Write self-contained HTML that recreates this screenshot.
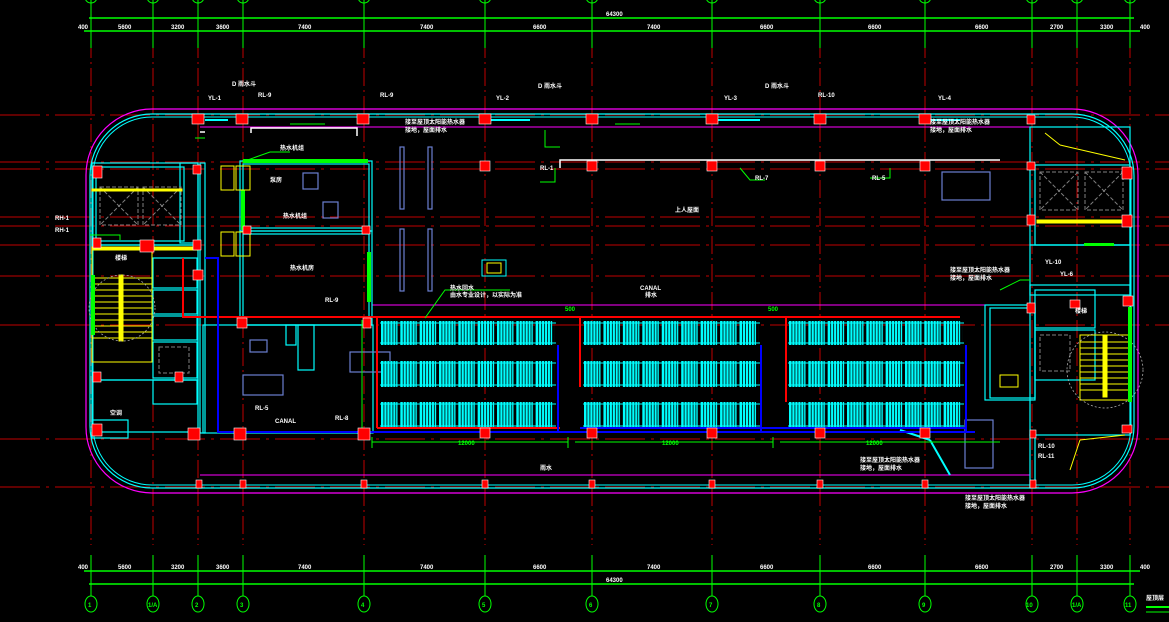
<!DOCTYPE html>
<html><head><meta charset="utf-8"><style>
html,body{margin:0;padding:0;background:#000;width:1169px;height:622px;overflow:hidden}
svg{display:block}
text{font-family:"Liberation Sans","Noto Sans CJK SC",sans-serif;fill:#fff;font-size:6px;font-weight:bold}
</style></head><body>
<svg width="1169" height="622" viewBox="0 0 1169 622" xmlns="http://www.w3.org/2000/svg">
<defs>
<pattern id="rad1" x="381" y="0" width="19.33" height="10" patternUnits="userSpaceOnUse">
<rect x="0" y="0" width="16.5" height="10" fill="#00ffff"/>
<rect x="2.5" y="0" width="0.8" height="10" fill="#000"/><rect x="5.5" y="0" width="0.8" height="10" fill="#000"/>
<rect x="8.5" y="0" width="0.8" height="10" fill="#000"/><rect x="11.5" y="0" width="0.8" height="10" fill="#000"/><rect x="14.3" y="0" width="0.8" height="10" fill="#000"/>
</pattern>
<pattern id="rad2" x="584" y="0" width="19.44" height="10" patternUnits="userSpaceOnUse">
<rect x="0" y="0" width="16.5" height="10" fill="#00ffff"/>
<rect x="2.5" y="0" width="0.8" height="10" fill="#000"/><rect x="5.5" y="0" width="0.8" height="10" fill="#000"/>
<rect x="8.5" y="0" width="0.8" height="10" fill="#000"/><rect x="11.5" y="0" width="0.8" height="10" fill="#000"/><rect x="14.3" y="0" width="0.8" height="10" fill="#000"/>
</pattern>
<pattern id="rad3" x="789" y="0" width="19.33" height="10" patternUnits="userSpaceOnUse">
<rect x="0" y="0" width="16.5" height="10" fill="#00ffff"/>
<rect x="2.5" y="0" width="0.8" height="10" fill="#000"/><rect x="5.5" y="0" width="0.8" height="10" fill="#000"/>
<rect x="8.5" y="0" width="0.8" height="10" fill="#000"/><rect x="11.5" y="0" width="0.8" height="10" fill="#000"/><rect x="14.3" y="0" width="0.8" height="10" fill="#000"/>
</pattern>
</defs>

<g stroke="#c00000" stroke-width="1" stroke-dasharray="18,4,2,4">
<line x1="91" y1="40" x2="91" y2="545"/><line x1="153" y1="40" x2="153" y2="545"/>
<line x1="198" y1="40" x2="198" y2="545"/><line x1="243" y1="40" x2="243" y2="545"/>
<line x1="364" y1="40" x2="364" y2="545"/><line x1="485" y1="40" x2="485" y2="545"/>
<line x1="592" y1="40" x2="592" y2="545"/><line x1="712" y1="40" x2="712" y2="545"/>
<line x1="820" y1="40" x2="820" y2="545"/><line x1="925" y1="40" x2="925" y2="545"/>
<line x1="1032" y1="40" x2="1032" y2="545"/><line x1="1077" y1="40" x2="1077" y2="545"/>
<line x1="1130" y1="40" x2="1130" y2="545"/>
</g>
<g stroke="#c00000" stroke-width="1" stroke-dasharray="40,6,3,6">
<line x1="0" y1="115" x2="1169" y2="115"/><line x1="0" y1="162" x2="1169" y2="162"/>
<line x1="0" y1="169" x2="1169" y2="169"/><line x1="0" y1="217" x2="1169" y2="217"/>
<line x1="0" y1="226" x2="1169" y2="226"/><line x1="0" y1="245" x2="1169" y2="245"/>
<line x1="0" y1="276" x2="1169" y2="276"/><line x1="0" y1="325" x2="1169" y2="325"/>
<line x1="0" y1="439" x2="1169" y2="439"/><line x1="0" y1="487" x2="1169" y2="487"/>
</g>

<g stroke="#00ff00" stroke-width="1.5">
<line x1="89" y1="18" x2="1134" y2="18"/><line x1="84" y1="31" x2="1140" y2="31"/>
</g>
<g stroke="#00ff00" stroke-width="1">
<line x1="91" y1="0" x2="91" y2="48"/><line x1="153" y1="0" x2="153" y2="48"/><line x1="198" y1="0" x2="198" y2="48"/>
<line x1="243" y1="0" x2="243" y2="48"/><line x1="364" y1="0" x2="364" y2="48"/><line x1="485" y1="0" x2="485" y2="48"/>
<line x1="592" y1="0" x2="592" y2="48"/><line x1="712" y1="0" x2="712" y2="48"/><line x1="820" y1="0" x2="820" y2="48"/>
<line x1="925" y1="0" x2="925" y2="48"/><line x1="1032" y1="0" x2="1032" y2="48"/><line x1="1077" y1="0" x2="1077" y2="48"/>
<line x1="1130" y1="0" x2="1130" y2="48"/>
</g>
<g fill="none" stroke="#00ff00" stroke-width="1">
<ellipse cx="91" cy="-3" rx="6" ry="6"/><ellipse cx="153" cy="-3" rx="6" ry="6"/><ellipse cx="198" cy="-3" rx="6" ry="6"/>
<ellipse cx="243" cy="-3" rx="6" ry="6"/><ellipse cx="364" cy="-3" rx="6" ry="6"/><ellipse cx="485" cy="-3" rx="6" ry="6"/>
<ellipse cx="592" cy="-3" rx="6" ry="6"/><ellipse cx="712" cy="-3" rx="6" ry="6"/><ellipse cx="820" cy="-3" rx="6" ry="6"/>
<ellipse cx="925" cy="-3" rx="6" ry="6"/><ellipse cx="1032" cy="-3" rx="6" ry="6"/><ellipse cx="1077" cy="-3" rx="6" ry="6"/>
<ellipse cx="1130" cy="-3" rx="6" ry="6"/>
</g>
<g font-size="5">
<text x="78" y="29">400</text><text x="118" y="29">5600</text><text x="171" y="29">3200</text><text x="216" y="29">3600</text>
<text x="298" y="29">7400</text><text x="420" y="29">7400</text><text x="533" y="29">6600</text><text x="647" y="29">7400</text>
<text x="760" y="29">6600</text><text x="868" y="29">6600</text><text x="975" y="29">6600</text><text x="1050" y="29">2700</text>
<text x="1100" y="29">3300</text><text x="1140" y="29">400</text><text x="606" y="16">64300</text>
</g>

<g stroke="#00ff00" stroke-width="1.5">
<line x1="84" y1="571" x2="1140" y2="571"/><line x1="89" y1="584" x2="1134" y2="584"/>
</g>
<g stroke="#00ff00" stroke-width="1">
<line x1="91" y1="555" x2="91" y2="596"/><line x1="153" y1="555" x2="153" y2="596"/><line x1="198" y1="555" x2="198" y2="596"/>
<line x1="243" y1="555" x2="243" y2="596"/><line x1="364" y1="555" x2="364" y2="596"/><line x1="485" y1="555" x2="485" y2="596"/>
<line x1="592" y1="555" x2="592" y2="596"/><line x1="712" y1="555" x2="712" y2="596"/><line x1="820" y1="555" x2="820" y2="596"/>
<line x1="925" y1="555" x2="925" y2="596"/><line x1="1032" y1="555" x2="1032" y2="596"/><line x1="1077" y1="555" x2="1077" y2="596"/>
<line x1="1130" y1="555" x2="1130" y2="596"/>
</g>
<g fill="none" stroke="#00ff00" stroke-width="1">
<ellipse cx="91" cy="604" rx="6" ry="8"/><ellipse cx="153" cy="604" rx="6" ry="8"/><ellipse cx="198" cy="604" rx="6" ry="8"/>
<ellipse cx="243" cy="604" rx="6" ry="8"/><ellipse cx="364" cy="604" rx="6" ry="8"/><ellipse cx="485" cy="604" rx="6" ry="8"/>
<ellipse cx="592" cy="604" rx="6" ry="8"/><ellipse cx="712" cy="604" rx="6" ry="8"/><ellipse cx="820" cy="604" rx="6" ry="8"/>
<ellipse cx="925" cy="604" rx="6" ry="8"/><ellipse cx="1032" cy="604" rx="6" ry="8"/><ellipse cx="1077" cy="604" rx="6" ry="8"/>
<ellipse cx="1130" cy="604" rx="6" ry="8"/>
</g>
<g font-size="8">
<text x="88" y="607" style="fill:#00ff00">1</text><text x="148" y="607" style="fill:#00ff00">1/A</text><text x="195" y="607" style="fill:#00ff00">2</text>
<text x="240" y="607" style="fill:#00ff00">3</text><text x="361" y="607" style="fill:#00ff00">4</text><text x="482" y="607" style="fill:#00ff00">5</text>
<text x="589" y="607" style="fill:#00ff00">6</text><text x="709" y="607" style="fill:#00ff00">7</text><text x="817" y="607" style="fill:#00ff00">8</text>
<text x="922" y="607" style="fill:#00ff00">9</text><text x="1026" y="607" style="fill:#00ff00">10</text><text x="1072" y="607" style="fill:#00ff00">1/A</text>
<text x="1125" y="607" style="fill:#00ff00">11</text>
</g>
<g font-size="5">
<text x="78" y="569">400</text><text x="118" y="569">5600</text><text x="171" y="569">3200</text><text x="216" y="569">3600</text>
<text x="298" y="569">7400</text><text x="420" y="569">7400</text><text x="533" y="569">6600</text><text x="647" y="569">7400</text>
<text x="760" y="569">6600</text><text x="868" y="569">6600</text><text x="975" y="569">6600</text><text x="1050" y="569">2700</text>
<text x="1100" y="569">3300</text><text x="1140" y="569">400</text><text x="606" y="582">64300</text>
</g>
<text x="1146" y="600" font-size="13">屋顶层</text>
<line x1="1146" y1="607" x2="1169" y2="607" stroke="#00ff00" stroke-width="2"/>
<line x1="1146" y1="612" x2="1169" y2="612" stroke="#00ff00" stroke-width="1"/>

<rect x="86" y="109" width="1052" height="384" rx="66" ry="66" fill="none" stroke="#ff00ff" stroke-width="1.2"/>
<rect x="90" y="114" width="1044" height="374" rx="62" ry="62" fill="none" stroke="#00ffff" stroke-width="1.2"/>
<rect x="93" y="117" width="1038" height="368" rx="59" ry="59" fill="none" stroke="#00ffff" stroke-width="1"/>
<line x1="200" y1="127" x2="1030" y2="127" stroke="#ff00ff" stroke-width="1"/>
<line x1="200" y1="475" x2="1030" y2="475" stroke="#ff00ff" stroke-width="1"/>
<line x1="372" y1="305" x2="1000" y2="305" stroke="#ff00ff" stroke-width="1"/>
<line x1="372" y1="305" x2="372" y2="325" stroke="#ff00ff" stroke-width="1"/>

<g fill="none" stroke="#00ffff" stroke-width="1.2">
<rect x="92" y="163" width="106" height="82"/>
<rect x="96" y="167" width="88" height="74"/>
<rect x="92" y="245" width="106" height="135"/>
<rect x="153" y="258" width="44" height="30"/>
<rect x="153" y="290" width="44" height="24"/>
<rect x="153" y="316" width="44" height="24"/>
<rect x="153" y="342" width="44" height="36"/>
<rect x="92" y="380" width="106" height="52"/>
<rect x="153" y="380" width="44" height="24"/>
<rect x="92" y="420" width="36" height="18"/>
<rect x="180" y="163" width="18" height="80"/>
<rect x="200" y="163" width="5" height="270"/>
</g>
<g fill="none" stroke="#808080" stroke-width="1" stroke-dasharray="4,2">
<rect x="100" y="187" width="38" height="38"/><rect x="143" y="187" width="38" height="38"/>
<rect x="159" y="347" width="30" height="26"/>
<line x1="100" y1="187" x2="138" y2="225"/><line x1="138" y1="187" x2="100" y2="225"/>
<line x1="143" y1="187" x2="181" y2="225"/><line x1="181" y1="187" x2="143" y2="225"/>
</g>
<g stroke="#ffff00" stroke-width="1">
<rect x="92" y="250" width="60" height="112" fill="none"/>
<line x1="92" y1="278" x2="152" y2="278"/><line x1="92" y1="284" x2="152" y2="284"/><line x1="92" y1="290" x2="152" y2="290"/>
<line x1="92" y1="296" x2="152" y2="296"/><line x1="92" y1="302" x2="152" y2="302"/><line x1="92" y1="308" x2="152" y2="308"/>
<line x1="92" y1="314" x2="152" y2="314"/><line x1="92" y1="320" x2="152" y2="320"/><line x1="92" y1="326" x2="152" y2="326"/>
<line x1="92" y1="332" x2="152" y2="332"/><line x1="92" y1="338" x2="152" y2="338"/>
<rect x="119" y="275" width="4" height="66" fill="#ffff00"/>
<rect x="92" y="247" width="106" height="3" fill="#ffff00"/>
<rect x="92" y="189" width="90" height="2" fill="#ffff00"/>
</g>
<circle cx="122" cy="308" r="33" fill="none" stroke="#aaa" stroke-width="0.8" stroke-dasharray="2,2"/>
<rect x="91" y="275" width="4" height="60" fill="#00ff00"/>

<g fill="none" stroke="#00ffff" stroke-width="1.2">
<rect x="1030" y="127" width="100" height="118"/>
<rect x="1035" y="165" width="95" height="80"/>
<rect x="1030" y="245" width="100" height="50"/>
<rect x="1030" y="285" width="100" height="150"/>
<rect x="1035" y="290" width="60" height="38"/>
<rect x="1035" y="330" width="60" height="50"/>
<rect x="985" y="305" width="50" height="95"/>
<rect x="990" y="308" width="45" height="90"/>
<rect x="1030" y="435" width="5" height="52"/>
</g>
<g fill="none" stroke="#808080" stroke-width="1" stroke-dasharray="4,2">
<rect x="1040" y="172" width="38" height="38"/><rect x="1085" y="172" width="38" height="38"/>
<rect x="1040" y="335" width="30" height="36"/>
<line x1="1040" y1="172" x2="1078" y2="210"/><line x1="1078" y1="172" x2="1040" y2="210"/>
<line x1="1085" y1="172" x2="1123" y2="210"/><line x1="1123" y1="172" x2="1085" y2="210"/>
</g>
<g stroke="#ffff00" stroke-width="1">
<rect x="1080" y="335" width="50" height="65" fill="none"/>
<line x1="1080" y1="342" x2="1130" y2="342"/><line x1="1080" y1="348" x2="1130" y2="348"/><line x1="1080" y1="354" x2="1130" y2="354"/>
<line x1="1080" y1="360" x2="1130" y2="360"/><line x1="1080" y1="366" x2="1130" y2="366"/><line x1="1080" y1="372" x2="1130" y2="372"/>
<line x1="1080" y1="378" x2="1130" y2="378"/><line x1="1080" y1="384" x2="1130" y2="384"/><line x1="1080" y1="390" x2="1130" y2="390"/>
<rect x="1103" y="335" width="4" height="62" fill="#ffff00"/>
<rect x="1037" y="220" width="93" height="3" fill="#ffff00"/>
<line x1="1045" y1="133" x2="1060" y2="145"/><line x1="1060" y1="145" x2="1125" y2="160"/>
<line x1="1070" y1="470" x2="1080" y2="440"/><line x1="1080" y1="440" x2="1125" y2="435"/>
</g>
<circle cx="1105" cy="370" r="38" fill="none" stroke="#aaa" stroke-width="0.8" stroke-dasharray="2,2"/>
<rect x="1128" y="307" width="4" height="95" fill="#00ff00"/>
<rect x="1084" y="243" width="30" height="3" fill="#00ff00"/>

<g fill="none" stroke="#00ffff" stroke-width="1.2">
<rect x="240" y="161" width="132" height="70"/>
<rect x="243" y="164" width="126" height="64"/>
<rect x="240" y="231" width="132" height="94"/>
<rect x="243" y="234" width="126" height="91"/>
<rect x="203" y="325" width="170" height="108"/>
<rect x="286" y="325" width="10" height="20"/>
<rect x="298" y="325" width="16" height="45"/>
</g>
<rect x="243" y="159" width="125" height="4" fill="#00ff00"/>
<rect x="367" y="252" width="4" height="50" fill="#00ff00"/>
<rect x="241" y="190" width="4" height="40" fill="#00ff00"/>
<g fill="none" stroke="#ffff00" stroke-width="1">
<rect x="221" y="166" width="13" height="24"/><rect x="236" y="166" width="14" height="24"/>
<rect x="221" y="232" width="13" height="24"/><rect x="236" y="232" width="14" height="24"/>
<rect x="1000" y="375" width="18" height="12"/>
</g>
<g fill="none" stroke="#6a7fd0" stroke-width="1.2">
<rect x="303" y="173" width="15" height="16"/><rect x="323" y="202" width="15" height="16"/>
<rect x="400" y="147" width="4" height="62"/><rect x="428" y="147" width="4" height="62"/>
<rect x="400" y="229" width="4" height="62"/><rect x="428" y="229" width="4" height="62"/>
<rect x="942" y="172" width="48" height="28"/>
<rect x="250" y="340" width="17" height="12"/><rect x="243" y="375" width="40" height="20"/>
<rect x="350" y="352" width="40" height="20"/>
<rect x="965" y="420" width="28" height="48"/>
</g>
<rect x="482" y="260" width="24" height="16" fill="none" stroke="#00ffff" stroke-width="1"/>
<rect x="487" y="263" width="14" height="10" fill="none" stroke="#ffff00" stroke-width="1"/>

<g stroke="#fff" stroke-width="1.5" fill="none">
<polyline points="251,133 251,128 357,128 357,136"/>
<polyline points="560,168 560,160 1000,160"/>
<polyline points="200,132 205,132"/>
</g>
<g stroke="#00ffff" stroke-width="2">
<line x1="205" y1="120" x2="228" y2="120"/><line x1="487" y1="120" x2="530" y2="120"/>
<line x1="718" y1="120" x2="760" y2="120"/><line x1="920" y1="120" x2="960" y2="120"/>
<line x1="930" y1="440" x2="950" y2="475"/><line x1="900" y1="430" x2="930" y2="440"/>
</g>

<rect x="381" y="321" width="174" height="24" fill="url(#rad1)"/>
<rect x="381" y="361" width="174" height="26" fill="url(#rad1)"/>
<rect x="381" y="402" width="174" height="26" fill="url(#rad1)"/>
<rect x="584" y="321" width="175" height="24" fill="url(#rad2)"/>
<rect x="584" y="361" width="175" height="26" fill="url(#rad2)"/>
<rect x="584" y="402" width="175" height="26" fill="url(#rad2)"/>
<rect x="789" y="321" width="174" height="24" fill="url(#rad3)"/>
<rect x="789" y="361" width="174" height="26" fill="url(#rad3)"/>
<rect x="789" y="402" width="174" height="26" fill="url(#rad3)"/>
<g stroke="#00ffff" stroke-width="1">
<line x1="380" y1="323" x2="556" y2="323"/><line x1="380" y1="343" x2="556" y2="343"/>
<line x1="380" y1="363" x2="556" y2="363"/><line x1="380" y1="385" x2="556" y2="385"/>
<line x1="380" y1="404" x2="556" y2="404"/><line x1="380" y1="426" x2="556" y2="426"/>
<line x1="583" y1="323" x2="760" y2="323"/><line x1="583" y1="343" x2="760" y2="343"/>
<line x1="583" y1="363" x2="760" y2="363"/><line x1="583" y1="385" x2="760" y2="385"/>
<line x1="583" y1="404" x2="760" y2="404"/><line x1="583" y1="426" x2="760" y2="426"/>
<line x1="788" y1="323" x2="964" y2="323"/><line x1="788" y1="343" x2="964" y2="343"/>
<line x1="788" y1="363" x2="964" y2="363"/><line x1="788" y1="385" x2="964" y2="385"/>
<line x1="788" y1="404" x2="964" y2="404"/><line x1="788" y1="426" x2="964" y2="426"/>
</g>

<g stroke="#ff0000" stroke-width="2" fill="none">
<polyline points="183,258 183,317 960,317"/>
<polyline points="377,317 377,428"/>
<polyline points="580,317 580,387"/>
<polyline points="786,317 786,402"/>
<line x1="377" y1="428" x2="560" y2="428"/>
</g>
<g stroke="#0000ff" stroke-width="2" fill="none">
<polyline points="205,258 218,258 218,432 975,432"/>
<polyline points="558,345 558,432"/><polyline points="761,345 761,432"/><polyline points="966,345 966,432"/>
<line x1="580" y1="428" x2="966" y2="428"/>
</g>
<g stroke="#00ff00" stroke-width="1">
<line x1="372" y1="442" x2="568" y2="442"/><line x1="575" y1="442" x2="773" y2="442"/><line x1="780" y1="442" x2="1000" y2="442"/>
<line x1="372" y1="437" x2="372" y2="448"/><line x1="568" y1="437" x2="568" y2="448"/><line x1="773" y1="437" x2="773" y2="448"/>
<line x1="362" y1="320" x2="362" y2="430"/>
</g>
<g font-size="7">
<text x="458" y="445" style="fill:#00ff00">12000</text><text x="662" y="445" style="fill:#00ff00">12000</text><text x="866" y="445" style="fill:#00ff00">12000</text>
<text x="565" y="311" style="fill:#00ff00">500</text><text x="768" y="311" style="fill:#00ff00">500</text>
</g>

<g stroke="#00ff00" stroke-width="1" fill="none">
<polyline points="195,138 205,138"/><polyline points="290,124 325,124"/><polyline points="615,124 640,124"/>
<polyline points="425,318 445,290 510,290"/><polyline points="242,162 270,152 290,152"/>
<polyline points="90,235 120,235 120,240"/><polyline points="545,130 545,147 560,147"/>
<polyline points="555,168 555,182 540,182"/><polyline points="740,168 750,180 765,180"/>
<polyline points="890,168 890,178 870,178"/><polyline points="1000,290 1020,280 1030,280"/>
</g>

<g fill="#ff0000" stroke="#fff" stroke-width="0.6">
<rect x="192" y="114" width="12" height="10"/><rect x="236" y="114" width="12" height="10"/><rect x="357" y="114" width="12" height="10"/>
<rect x="479" y="114" width="12" height="10"/><rect x="586" y="114" width="12" height="10"/><rect x="706" y="114" width="12" height="10"/>
<rect x="814" y="114" width="12" height="10"/><rect x="919" y="114" width="12" height="10"/><rect x="1027" y="115" width="8" height="9"/>
<rect x="480" y="161" width="10" height="10"/><rect x="587" y="161" width="10" height="10"/><rect x="707" y="161" width="10" height="10"/>
<rect x="815" y="161" width="10" height="10"/><rect x="920" y="161" width="10" height="10"/><rect x="1122" y="167" width="10" height="12"/>
<rect x="93" y="166" width="9" height="12"/><rect x="193" y="165" width="8" height="9"/><rect x="1027" y="162" width="8" height="8"/>
<rect x="93" y="238" width="8" height="10"/><rect x="140" y="240" width="14" height="12"/><rect x="193" y="240" width="8" height="10"/>
<rect x="1122" y="215" width="10" height="12"/><rect x="1027" y="215" width="8" height="10"/><rect x="1123" y="296" width="10" height="10"/>
<rect x="1070" y="300" width="10" height="8"/><rect x="1027" y="303" width="8" height="10"/>
<rect x="243" y="226" width="8" height="8"/><rect x="362" y="226" width="8" height="8"/>
<rect x="193" y="270" width="10" height="10"/><rect x="237" y="318" width="10" height="10"/><rect x="363" y="318" width="8" height="10"/>
<rect x="93" y="372" width="8" height="10"/><rect x="175" y="372" width="8" height="10"/>
<rect x="92" y="424" width="10" height="12"/><rect x="188" y="428" width="12" height="12"/><rect x="234" y="428" width="12" height="12"/>
<rect x="358" y="428" width="12" height="12"/><rect x="480" y="428" width="10" height="10"/><rect x="587" y="428" width="10" height="10"/>
<rect x="707" y="428" width="10" height="10"/><rect x="815" y="428" width="10" height="10"/><rect x="920" y="428" width="10" height="10"/>
<rect x="1122" y="425" width="10" height="8"/><rect x="1030" y="430" width="6" height="8"/>
<rect x="196" y="480" width="6" height="8"/><rect x="240" y="480" width="6" height="8"/><rect x="361" y="480" width="6" height="8"/>
<rect x="482" y="480" width="6" height="8"/><rect x="589" y="480" width="6" height="8"/><rect x="709" y="480" width="6" height="8"/>
<rect x="817" y="480" width="6" height="8"/><rect x="922" y="480" width="6" height="8"/><rect x="1030" y="480" width="6" height="8"/>
</g>

<g font-size="5">
<text x="208" y="100">YL-1</text><text x="258" y="97">RL-9</text><text x="232" y="86">D 雨水斗</text>
<text x="380" y="97">RL-9</text><text x="496" y="100">YL-2</text><text x="538" y="88">D 雨水斗</text>
<text x="724" y="100">YL-3</text><text x="765" y="88">D 雨水斗</text><text x="818" y="97">RL-10</text><text x="938" y="100">YL-4</text>
<text x="405" y="124">接至屋顶太阳能热水器</text><text x="405" y="132">接地，屋面排水</text>
<text x="930" y="124">接至屋顶太阳能热水器</text><text x="930" y="132">接地，屋面排水</text>
<text x="280" y="150">热水机组</text><text x="283" y="218">热水机组</text><text x="270" y="182">泵房</text>
<text x="290" y="270">热水机房</text><text x="675" y="212">上人屋面</text>
<text x="540" y="170">RL-1</text><text x="755" y="180">RL-7</text><text x="872" y="180">RL-5</text>
<text x="450" y="290">热水回水</text><text x="450" y="297">由水专业设计，以实际为准</text>
<text x="640" y="290">CANAL</text><text x="645" y="297">排水</text>
<text x="275" y="423">CANAL</text><text x="335" y="420">RL-8</text><text x="255" y="410">RL-5</text>
<text x="860" y="462">接至屋顶太阳能热水器</text><text x="860" y="470">接地，屋面排水</text>
<text x="965" y="500">接至屋顶太阳能热水器</text><text x="965" y="508">接地，屋面排水</text>
<text x="950" y="272">接至屋顶太阳能热水器</text><text x="950" y="280">接地，屋面排水</text>
<text x="55" y="220">RH-1</text><text x="55" y="232">RH-1</text>
<text x="1045" y="264">YL-10</text><text x="1060" y="276">YL-6</text><text x="1038" y="448">RL-10</text><text x="1038" y="458">RL-11</text>
<text x="115" y="260">楼梯</text><text x="1075" y="313">楼梯</text>
<text x="325" y="302">RL-9</text><text x="540" y="470">雨水</text><text x="110" y="415">空调</text>
</g>
</svg>
</body></html>
